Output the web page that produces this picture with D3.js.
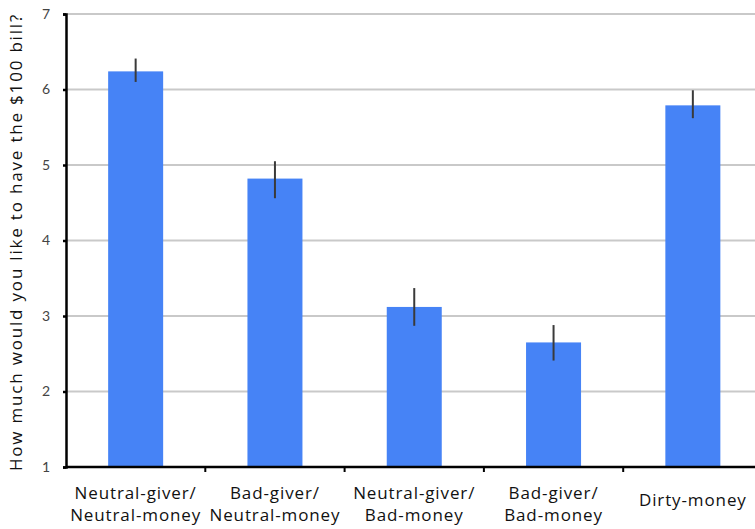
<!DOCTYPE html>
<html><head><meta charset="utf-8">
<script src="https://cdn.jsdelivr.net/npm/d3@7"></script>
<style>body{margin:0;background:#fff;}svg{display:block;font-family:"Open Sans",Lato,sans-serif;}</style>
</head><body><svg id="c" width="755" height="529"></svg>
<script>
const categories = [["Neutral-giver/","Neutral-money"],["Bad-giver/","Neutral-money"],["Neutral-giver/","Bad-money"],["Bad-giver/","Bad-money"],["Dirty-money"]];
const values = [6.24, 4.82, 3.12, 2.65, 5.79];
const errLow = [6.10, 4.56, 2.87, 2.41, 5.62];
const errHigh = [6.41, 5.05, 3.37, 2.88, 5.99];
const yTicks = [1,2,3,4,5,6,7];
const yLabel = "How much would you like to have the $100 bill?";

(function(){
const svg = d3.select("#c");
const mLeft = 66, mTop = 14, mBottom = 467;
const x = d3.scaleBand().domain(d3.range(categories.length)).range([mLeft, 762.5]).paddingInner(0).paddingOuter(0);
const y = d3.scaleLinear().domain([1,7]).range([mBottom, mTop]);

function fitSpacing(sel, target){
  const n = sel.text().length;
  const len = sel.node().getComputedTextLength();
  sel.attr("letter-spacing", ((target - len) / n).toFixed(2));
}

// gridlines
svg.append("g").selectAll("line").data(yTicks.slice(1)).join("line")
  .attr("x1", mLeft).attr("x2", 755).attr("y1", d=>y(d)).attr("y2", d=>y(d))
  .attr("stroke", "#c9c9c9").attr("stroke-width", 2);

// bars
const bw = 55;
svg.append("g").selectAll("rect").data(values).join("rect")
  .attr("x", (d,i)=>x(i)+x.bandwidth()/2-bw/2).attr("width", bw)
  .attr("y", d=>y(d)).attr("height", d=>y(1)-y(d))
  .attr("fill", "#4683f6");

// error bars
svg.append("g").selectAll("line").data(values).join("line")
  .attr("x1", (d,i)=>x(i)+x.bandwidth()/2).attr("x2", (d,i)=>x(i)+x.bandwidth()/2)
  .attr("y1", (d,i)=>y(errHigh[i])).attr("y2", (d,i)=>y(errLow[i]))
  .attr("stroke", "#3a3a3a").attr("stroke-width", 2);

// y axis
const ya = d3.axisLeft(y).tickValues(yTicks).tickSize(3).tickPadding(13).tickFormat(d3.format("d"));
const gy = svg.append("g").attr("transform", `translate(${mLeft},0)`).call(ya);
gy.select(".domain").attr("stroke", "#000").attr("stroke-width", 2.5);
gy.selectAll(".tick line").attr("stroke", "#000").attr("stroke-width", 2.5);
gy.selectAll(".tick text").attr("font-size", 14).attr("fill", "#444").attr("font-family", "Lato, sans-serif");

// x axis
svg.append("line").attr("x1", mLeft).attr("x2", 755).attr("y1", mBottom).attr("y2", mBottom)
  .attr("stroke", "#000").attr("stroke-width", 2.5);
svg.append("g").selectAll("line").data(d3.range(1, categories.length)).join("line")
  .attr("x1", d=>x(d)).attr("x2", d=>x(d)).attr("y1", mBottom).attr("y2", mBottom+5)
  .attr("stroke", "#000").attr("stroke-width", 2);

// category labels
const ref = svg.append("text").attr("font-size", 17).text("Neutral-money");
const refLen = ref.node().getComputedTextLength();
ref.remove();
const catSpacing = ((131 - refLen) / 13).toFixed(2);
const lab = svg.append("g").selectAll("text").data(categories).join("text")
  .attr("text-anchor", "middle").attr("font-size", 17).attr("fill", "#111")
  .attr("letter-spacing", catSpacing);
lab.each(function(d,i){
  const t = d3.select(this);
  const cx = x(i)+x.bandwidth()/2;
  if (d.length === 1) {
    t.append("tspan").attr("x", cx).attr("y", 506).text(d[0]);
  } else {
    d.forEach((s,j)=> t.append("tspan").attr("x", cx).attr("y", 499 + j*22).text(s));
  }
});

// y label
const yl = svg.append("text").attr("transform", `translate(22,242) rotate(-90)`)
  .attr("text-anchor", "middle").attr("font-size", 17).attr("fill", "#111").text(yLabel);
fitSpacing(yl, 458);
})();
</script></body></html>
